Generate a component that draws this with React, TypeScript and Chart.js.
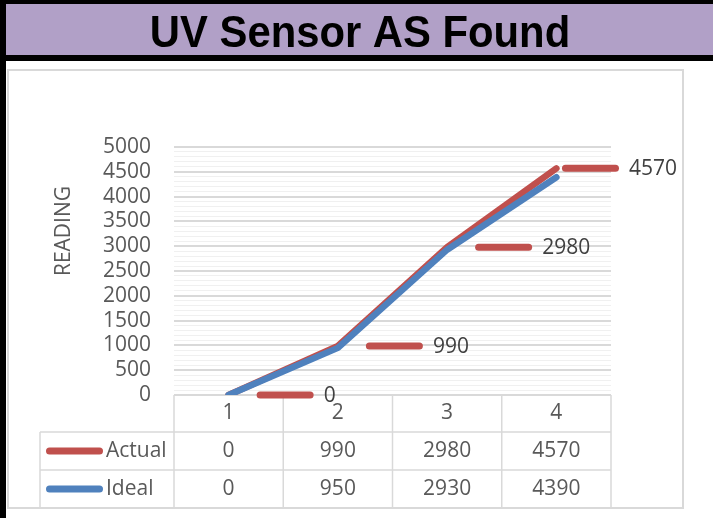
import React, { useEffect, useRef } from 'react';
import { Chart, registerables } from 'chart.js';

Chart.register(...registerables);

// ---- data ----
const categories = ['1', '2', '3', '4'];
const actualValues = [0, 990, 2980, 4570];
const idealValues = [0, 950, 2930, 4390];
const seriesNames = ['Actual', 'Ideal'];
const chartTitle = 'UV Sensor AS Found';
const yAxisTitle = 'READING';
const yMin = 0;
const yMax = 5000;
const yMajorStep = 500;
const yMinorStep = 100;

// ---- style ----
const W = 713;
const H = 518;
const RED = '#C0504D';
const BLUE = '#4F81BD';
const PURPLE = '#B1A0C7';
const GRID_MAJOR = '#d9d9d9';
const GRID_MINOR = '#f0f0f0';
const TEXT = '#595959';
const FONT = '"Open Sans", "Noto Sans", sans-serif';
const FS = 21;

const framePlugin = {
  id: 'frame',
  beforeDraw(chart: any) {
    const ctx = chart.ctx as CanvasRenderingContext2D;
    ctx.save();
    ctx.fillStyle = '#ffffff';
    ctx.fillRect(0, 0, W, H);
    // black frame of banner
    ctx.fillStyle = '#000000';
    ctx.fillRect(0, 0, W, 61);
    ctx.fillRect(0, 0, 6, H);
    ctx.fillRect(500, 0, 18, 6);
    // purple banner
    ctx.fillStyle = PURPLE;
    ctx.fillRect(6, 4, W - 6, 51);
    // title
    ctx.fillStyle = '#000000';
    ctx.font = `bold 44px "Liberation Sans", Arial, sans-serif`;
    ctx.textAlign = 'center';
    ctx.textBaseline = 'alphabetic';
    ctx.translate(360, 47);
    ctx.scale(0.95, 1);
    ctx.fillText(chartTitle, 0, 0);
    ctx.restore();

    // chart outer border
    ctx.save();
    ctx.strokeStyle = GRID_MAJOR;
    ctx.lineWidth = 2;
    ctx.strokeRect(8, 70, 675, 438);
    // y axis title
    ctx.fillStyle = TEXT;
    ctx.font = `${FS}px ${FONT}`;
    ctx.textAlign = 'center';
    ctx.textBaseline = 'middle';
    ctx.translate(64, 231);
    ctx.rotate(-Math.PI / 2);
    ctx.fillText(yAxisTitle, 0, 0);
    ctx.restore();
  },
};

const tablePlugin = {
  id: 'dataTable',
  beforeDatasetsDraw(chart: any) {
    const ctx = chart.ctx as CanvasRenderingContext2D;
    const area = chart.chartArea;
    const xs = chart.scales.x;
    const n = categories.length;
    const colW = (area.right - area.left) / n;
    const top = area.bottom;
    const rowH = [37, 38, 38];
    const r1 = top + rowH[0];
    const r2 = r1 + rowH[1];
    const r3 = r2 + rowH[2];
    const legendLeft = 40;
    ctx.save();
    ctx.strokeStyle = GRID_MAJOR;
    ctx.lineWidth = 1.5;
    ctx.beginPath();
    // horizontal lines
    ctx.moveTo(area.left, top);
    ctx.lineTo(area.right, top);
    [r1, r2, r3].forEach((y) => {
      ctx.moveTo(legendLeft, y);
      ctx.lineTo(area.right, y);
    });
    // vertical lines
    for (let i = 0; i <= n; i++) {
      const x = area.left + i * colW;
      ctx.moveTo(x, top);
      ctx.lineTo(x, r3);
    }
    ctx.moveTo(legendLeft, r1);
    ctx.lineTo(legendLeft, r3);
    ctx.stroke();

    ctx.fillStyle = TEXT;
    ctx.font = `${FS}px ${FONT}`;
    ctx.textAlign = 'center';
    ctx.textBaseline = 'middle';
    const rows = [actualValues, idealValues];
    const mids = [(top + r1) / 2, (r1 + r2) / 2, (r2 + r3) / 2];
    categories.forEach((c, i) => {
      const x = xs.getPixelForValue(i);
      ctx.fillText(c, x, mids[0]);
      rows.forEach((vals, r) => ctx.fillText(String(vals[r === 0 ? i : i]), x, mids[r + 1]));
    });
    // legend keys
    const colors = [RED, BLUE];
    seriesNames.forEach((name, r) => {
      const y = mids[r + 1];
      ctx.strokeStyle = colors[r];
      ctx.lineWidth = 7;
      ctx.lineCap = 'round';
      ctx.beginPath();
      ctx.moveTo(49.5, y);
      ctx.lineTo(99.5, y);
      ctx.stroke();
      ctx.fillStyle = TEXT;
      ctx.textAlign = 'left';
      ctx.fillText(name, 106, y);
    });
    ctx.restore();
  },
};

const labelPlugin = {
  id: 'actualLabels',
  afterDatasetsDraw(chart: any) {
    const ctx = chart.ctx as CanvasRenderingContext2D;
    const meta = chart.getDatasetMeta(0);
    ctx.save();
    ctx.font = `${FS}px ${FONT}`;
    ctx.textBaseline = 'middle';
    ctx.textAlign = 'left';
    const keyLen = 57;
    const cap = 3.5;
    const gap = 10;
    const limit = 677;
    meta.data.forEach((pt: any, i: number) => {
      const text = String(actualValues[i]);
      const tw = ctx.measureText(text).width;
      let start = pt.x + 28;
      const total = keyLen + gap + tw;
      if (start + total > limit) start = limit - total;
      ctx.strokeStyle = RED;
      ctx.lineWidth = 7;
      ctx.lineCap = 'round';
      ctx.beginPath();
      ctx.moveTo(start + cap, pt.y);
      ctx.lineTo(start + keyLen - cap, pt.y);
      ctx.stroke();
      ctx.fillStyle = '#404040';
      ctx.fillText(text, start + keyLen + gap, pt.y + 1);
    });
    ctx.restore();
  },
};

export default function App() {
  const ref = useRef<HTMLCanvasElement>(null);
  useEffect(() => {
    const canvas = ref.current;
    if (!canvas) return;
    const chart = new Chart(canvas, {
      type: 'line',
      data: {
        labels: categories,
        datasets: [
          {
            label: seriesNames[0],
            data: actualValues,
            borderColor: RED,
            backgroundColor: RED,
            borderWidth: 6.5,
            pointRadius: 0,
            borderCapStyle: 'round',
            borderJoinStyle: 'round',
            tension: 0,
            order: 2,
          },
          {
            label: seriesNames[1],
            data: idealValues,
            borderColor: BLUE,
            backgroundColor: BLUE,
            borderWidth: 6.5,
            pointRadius: 0,
            borderCapStyle: 'round',
            borderJoinStyle: 'round',
            tension: 0,
            order: 1,
          },
        ],
      },
      options: {
        animation: false,
        responsive: false,
        maintainAspectRatio: false,
        layout: { padding: { left: 0, top: 147, right: 102, bottom: 123 } },
        plugins: {
          legend: { display: false },
          tooltip: { enabled: false },
          title: { display: false },
        },
        scales: {
          x: { type: 'category', display: false, offset: true },
          y: {
            min: yMin,
            max: yMax,
            afterFit: (s: any) => {
              s.width = 174;
            },
            border: { display: false },
            grid: {
              drawTicks: false,
              color: (c: any) => (c.tick && c.tick.value % yMajorStep === 0 ? GRID_MAJOR : GRID_MINOR),
              lineWidth: (c: any) => (c.tick && c.tick.value % yMajorStep === 0 ? 2 : 1),
            },
            ticks: {
              stepSize: yMinorStep,
              autoSkip: false,
              padding: 23,
              color: TEXT,
              font: { family: FONT, size: FS },
              callback: (v: any) => (Number(v) % yMajorStep === 0 ? String(v) : ''),
            },
          },
        },
      } as any,
      plugins: [framePlugin, tablePlugin, labelPlugin],
    });
    return () => chart.destroy();
  }, []);
  return (
    <canvas
      ref={ref}
      width={W}
      height={H}
      style={{ position: 'fixed', left: 0, top: 0, width: W, height: H }}
    />
  );
}
